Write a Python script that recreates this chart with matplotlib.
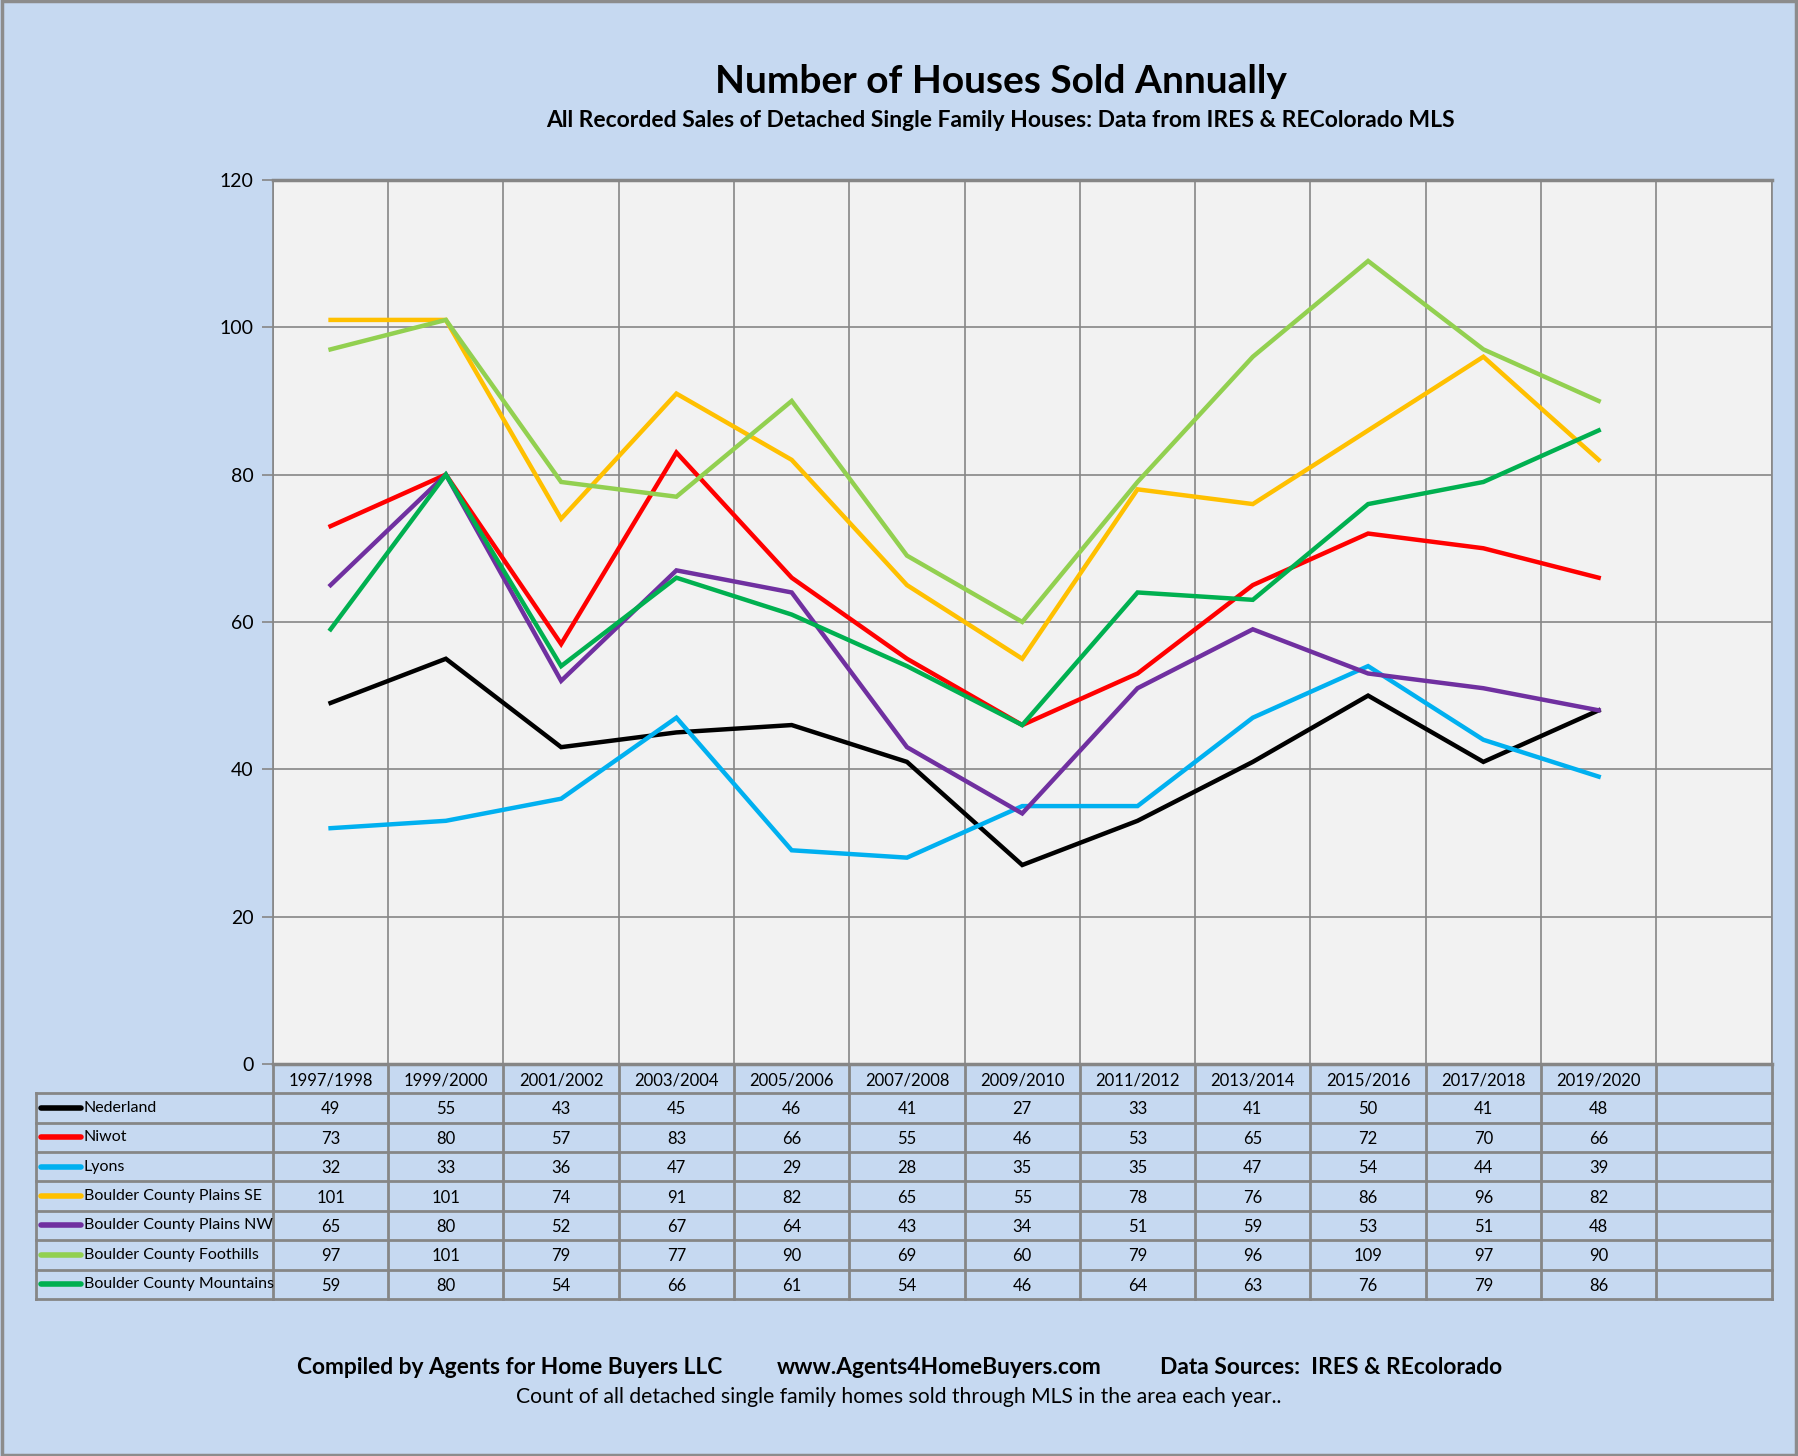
import matplotlib.pyplot as plt
from matplotlib.patches import Rectangle

years = ['1997/1998', '1999/2000', '2001/2002', '2003/2004', '2005/2006', '2007/2008',
         '2009/2010', '2011/2012', '2013/2014', '2015/2016', '2017/2018', '2019/2020']
nederland = [49, 55, 43, 45, 46, 41, 27, 33, 41, 50, 41, 48]
niwot = [73, 80, 57, 83, 66, 55, 46, 53, 65, 72, 70, 66]
lyons = [32, 33, 36, 47, 29, 28, 35, 35, 47, 54, 44, 39]
plains_se = [101, 101, 74, 91, 82, 65, 55, 78, 76, 86, 96, 82]
plains_nw = [65, 80, 52, 67, 64, 43, 34, 51, 59, 53, 51, 48]
foothills = [97, 101, 79, 77, 90, 69, 60, 79, 96, 109, 97, 90]
mountains = [59, 80, 54, 66, 61, 54, 46, 64, 63, 76, 79, 86]

series = [
    ('Nederland', nederland, '#000000'),
    ('Niwot', niwot, '#FF0000'),
    ('Lyons', lyons, '#00B0F0'),
    ('Boulder County Plains SE', plains_se, '#FFC000'),
    ('Boulder County Plains NW', plains_nw, '#7030A0'),
    ('Boulder County Foothills', foothills, '#92D050'),
    ('Boulder County Mountains', mountains, '#00B050'),
]

bg = '#C6D9F1'
grid = '#868686'
ncol = len(years) + 1

plt.rcParams['font.family'] = ['Lato', 'DejaVu Sans']

fig = plt.figure(figsize=(17.98, 14.56), dpi=100)
fig.patch.set_facecolor(bg)
fig.patches.append(Rectangle((0.001, 0.001), 0.998, 0.998, transform=fig.transFigure,
                             fill=False, edgecolor='#8C8C8C', linewidth=2.5))

# main chart
ax = fig.add_axes([0.1518, 0.2693, 0.8335, 0.6071])
ax.set_facecolor('#F2F2F2')
x = [i + 0.5 for i in range(len(years))]
for name, vals, col in series:
    ax.plot(x, vals, color=col, linewidth=3.2, solid_joinstyle='miter')
ax.set_xlim(0, ncol)
ax.set_ylim(0, 120)
ax.set_yticks(range(0, 121, 20))
ax.set_xticks(range(0, ncol + 1))
ax.set_xticklabels([])
ax.tick_params(axis='x', length=0)
ax.tick_params(axis='y', length=8, width=1.2, color=grid, labelsize=14, pad=6)
ax.grid(True, color=grid, linewidth=1.2)
ax.set_axisbelow(True)
for side in ['left', 'right', 'bottom']:
    ax.spines[side].set_color(grid)
    ax.spines[side].set_linewidth(1.2)
ax.spines['top'].set_color(grid)
ax.spines['top'].set_linewidth(2.5)
ax.spines['bottom'].set_linewidth(2.5)

# data table
lab_w = 2.059
tax = fig.add_axes([0.01977, 0.1079, 0.96553, 0.1614])
tax.set_xlim(-lab_w, ncol)
tax.set_ylim(len(series) + 1, 0)
tax.axis('off')
tax.patch.set_visible(False)
nrow = len(series) + 1
for r in range(1, nrow + 1):
    tax.plot([-lab_w, ncol], [r, r], color=grid, linewidth=2.0, clip_on=False)
tax.plot([0, ncol], [0, 0], color=grid, linewidth=2.0, clip_on=False)
for c in range(0, ncol + 1):
    tax.plot([c, c], [0, nrow], color=grid, linewidth=2.0, clip_on=False)
tax.plot([-lab_w, -lab_w], [1, nrow], color=grid, linewidth=2.0, clip_on=False)
for i, yr in enumerate(years):
    tax.text(i + 0.5, 0.55, yr, ha='center', va='center', fontsize=12)
for r, (name, vals, col) in enumerate(series, start=1):
    tax.plot([-lab_w + 0.05, -lab_w + 0.39], [r + 0.5, r + 0.5], color=col,
             linewidth=4, solid_capstyle='round', clip_on=False)
    tax.text(-lab_w + 0.42, r + 0.5, name, ha='left', va='center', fontsize=11.5)
    for i, v in enumerate(vals):
        tax.text(i + 0.5, r + 0.55, str(v), ha='center', va='center', fontsize=12)

# titles
fig.text(0.5568, 0.944, 'Number of Houses Sold Annually', ha='center', va='center',
         fontsize=28, fontweight='bold')
fig.text(0.5565, 0.9175, 'All Recorded Sales of Detached Single Family Houses: Data from IRES & REColorado MLS',
         ha='center', va='center', fontsize=16.5, fontweight='bold')
fig.text(0.2832, 0.0605, 'Compiled by Agents for Home Buyers LLC', ha='center', va='center',
         fontsize=16.4, fontweight='bold')
fig.text(0.5223, 0.0605, 'www.Agents4HomeBuyers.com', ha='center', va='center',
         fontsize=16.4, fontweight='bold')
fig.text(0.7404, 0.0605, 'Data Sources:  IRES & REcolorado', ha='center', va='center',
         fontsize=16.4, fontweight='bold')
fig.text(0.4997, 0.0405, 'Count of all detached single family homes sold through MLS in the area each year..',
         ha='center', va='center', fontsize=15.2)

fig.savefig('out.png', dpi=100, facecolor=bg)
